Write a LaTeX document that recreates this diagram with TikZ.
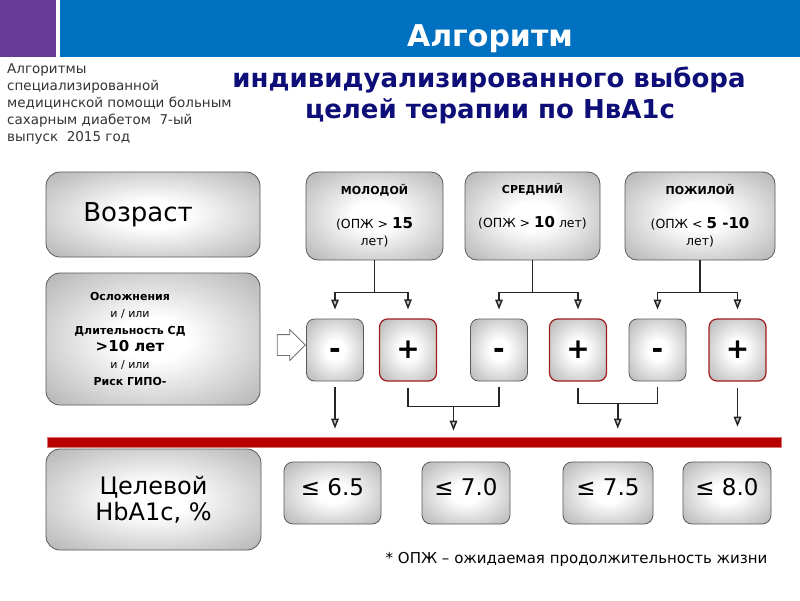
\documentclass[tikz,border=0pt]{standalone}
\usepackage{fontspec}
\setmainfont{DejaVu Sans}
\usetikzlibrary{positioning, arrows.meta, calc, shapes.arrows}
\definecolor{hdrpurple}{RGB}{104,58,152}
\definecolor{hdrblue}{RGB}{0,112,192}
\definecolor{titlenavy}{RGB}{14,14,120}
\definecolor{barred}{RGB}{184,0,0}
\definecolor{plusred}{RGB}{160,30,30}
\pgfdeclareradialshading{boxglow}{\pgfpoint{0bp}{0bp}}{color(0bp)=(white); color(8bp)=(white); color(50bp)=(black!45); color(71bp)=(black!60)}

\begin{document}
\begin{tikzpicture}[x=1pt, y=-1pt,
  >={Triangle[open, length=10pt, width=7.5pt, fill=black!20]},
  panel/.style={draw=black!65, line width=0.8pt, rounded corners=14pt, shading=boxglow, inner sep=0pt},
  agebox/.style={panel, rounded corners=12pt, minimum height=88pt, align=center, font=\fontsize{12.5}{17}\selectfont},
  signbox/.style={panel, rounded corners=8pt, minimum width=57pt, minimum height=62pt, text height=17pt, text depth=0pt, font=\fontsize{28}{28}\selectfont\bfseries},
  plusbox/.style={signbox, draw=plusred, line width=1.2pt},
  goalbox/.style={panel, rounded corners=9pt, minimum height=62pt, text height=20pt, text depth=16pt, font=\fontsize{23}{23}\selectfont},
  wire/.style={draw=black!85, line width=1.5pt},
]
  \useasboundingbox (0,0) rectangle (800,600);
  \fill[hdrpurple] (0,0) rectangle (56,57);
  \fill[hdrblue] (60,0) rectangle (800,57);
  \node[text=white, font=\fontsize{30}{30}\selectfont\bfseries, anchor=base] (title) at (490,46) {Алгоритм};
  \node[text=titlenavy, font=\fontsize{26}{30}\selectfont\bfseries, anchor=base] (sub1) at (489,87) {индивидуализированного выбора};
  \node[text=titlenavy, font=\fontsize{26}{30}\selectfont\bfseries, anchor=base] (sub2) at (490,118) {целей терапии по НвА1с};
  \node[anchor=north west, align=left, inner sep=0pt, text=black!80, font=\fontsize{13.5}{17}\selectfont] (src) at (7,63)
    {Алгоритмы\\специализированной\\медицинской помощи больным\\сахарным диабетом~ 7-ый\\выпуск~ 2015 год};

  \node[panel, minimum width=214pt, minimum height=85pt,
    label={[font=\fontsize{26}{26}\selectfont, xshift=-15pt]center:Возраст}] (age) at (153,214.5) {};
  \node[panel, minimum width=214pt, minimum height=132pt,
    label={[align=center, xshift=-23pt, font=\fontsize{11}{17}\selectfont\bfseries]center:Осложнения\\{\mdseries и / или}\\Длительность СД\\{\fontsize{15}{17}\selectfont >10 лет}\\{\mdseries и / или}\\Риск ГИПО-}] (cond) at (153,339) {};
  \node[panel, minimum width=215pt, minimum height=101pt, align=center, font=\fontsize{24}{26}\selectfont] (goal) at (153.5,499.5) {Целевой\\HbA1c, \%};
  \node[single arrow, draw=black!55, fill=white, line width=0.8pt, minimum height=28pt, inner xsep=0pt, inner ysep=10pt, single arrow head extend=5pt] (hint) at (286,345) {};

  \node[agebox, minimum width=137pt] (yng) at (374.5,216) {{\fontsize{11}{17}\selectfont\bfseries МОЛОДОЙ}\\[17pt](ОПЖ > {\fontsize{15}{17}\selectfont\bfseries 15}\\лет)};
  \node[agebox, minimum width=135pt] (mid) at (532.5,216) {{\fontsize{11}{17}\selectfont\bfseries СРЕДНИЙ}\\[17pt](ОПЖ > {\fontsize{15}{17}\selectfont\bfseries 10} лет)\\\strut};
  \node[agebox, minimum width=150pt] (old) at (700,216) {{\fontsize{11}{17}\selectfont\bfseries ПОЖИЛОЙ}\\[17pt](ОПЖ < {\fontsize{15}{17}\selectfont\bfseries 5 -10}\\лет)};

  \node[signbox] (m1) at (335,350) {-};
  \node[plusbox] (p1) at (408,350) {+};
  \node[signbox] (m2) at (499,350) {-};
  \node[plusbox] (p2) at (578,350) {+};
  \node[signbox] (m3) at (657.5,350) {-};
  \node[plusbox] (p3) at (737.5,350) {+};

  \node[fill=barred, draw=barred!55, line width=0.6pt, minimum width=734pt, minimum height=10pt, inner sep=0pt] (bar) at (414,442) {};

  \node[goalbox, minimum width=97pt] (v1) at (332.5,493) {≤ 6.5};
  \node[goalbox, minimum width=88pt] (v2) at (466,493) {≤ 7.0};
  \node[goalbox, minimum width=90pt] (v3) at (608,493) {≤ 7.5};
  \node[goalbox, minimum width=88pt] (v4) at (727,493) {≤ 8.0};
  \node[anchor=base east, font=\fontsize{15}{15}\selectfont] (note) at (771,563) {* ОПЖ – ожидаемая продолжительность жизни};

  \draw[wire] (yng.south) -- ++(0,32) coordinate (yj);
  \draw[wire] (mid.south) -- ++(0,32) coordinate (mj);
  \draw[wire] (old.south) -- ++(0,32) coordinate (oj);
  \draw[wire, ->, shorten >=9pt] (yj) -| (m1.north); \draw[wire, ->, shorten >=9pt] (yj) -| (p1.north);
  \draw[wire, ->, shorten >=9pt] (mj) -| (m2.north); \draw[wire, ->, shorten >=9pt] (mj) -| (p2.north);
  \draw[wire, ->, shorten >=9pt] (oj) -| (m3.north); \draw[wire, ->, shorten >=9pt] (oj) -| (p3.north);

  \draw[wire, shorten <=6pt, shorten >=6pt] (p1.south) -- ++(0,25) -| (m2.south);
  \draw[wire, shorten <=6pt, shorten >=6pt] (p2.south) -- ++(0,22) -| (m3.south);
  \coordinate (j1) at ($(p1.south)!0.5!(m2.south)+(0,25)$);
  \coordinate (j2) at ($(p2.south)!0.5!(m3.south)+(0,22)$);
  \draw[wire, ->, shorten <=6pt, shorten >=8pt] (m1.south) -- (m1.south |- bar.north);
  \draw[wire, ->, shorten >=6pt] (j1) -- (j1 |- bar.north);
  \draw[wire, ->, shorten >=8pt] (j2) -- (j2 |- bar.north);
  \draw[wire, ->, shorten <=6pt, shorten >=10pt] (p3.south) -- (p3.south |- bar.north);
\end{tikzpicture}
\end{document}
